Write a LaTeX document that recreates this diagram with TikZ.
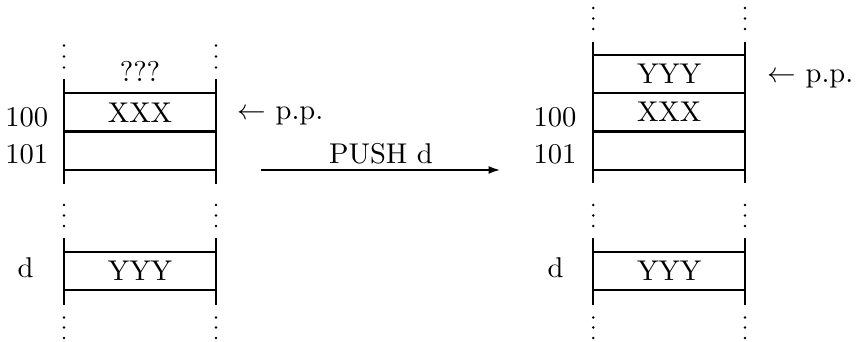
\documentclass[tikz,border=0pt]{standalone}
\usetikzlibrary{arrows.meta}
\begin{document}
\begin{tikzpicture}[x=0.35pt,y=-0.35pt,
  cell/.style={draw,line width=0.8pt,minimum width=53.1pt,minimum height=13.5pt,inner sep=0pt},
  lbl/.style={anchor=base,inner sep=0pt},
  ptr/.style={anchor=base west,inner sep=0pt},
  rail/.style={line width=0.8pt},
  vdot/.style={fill=black}]
\useasboundingbox (0,0) rectangle (861,342);
% ---------- left stack ----------
\draw[rail] (64,79.3) -- (64,184);
\draw[rail] (216,79.3) -- (216,184);
\node[cell] (LX) at (140,112.3) {XXX};
\node[cell] (LE) at (140,150.9) {};
\node[lbl] (Lq) at (140,81.5) {???};
\node[lbl] (L100) at (26.7,126.7) {100};
\node[lbl] (L101) at (26.7,163.4) {101};
\node[ptr] (Lpp) at (237,120) {$\leftarrow$ p.p.};
\foreach \xx in {64,216}{
  \foreach \yy in {45.5,56.5,67.5}{\fill[vdot] (\xx,\yy) circle[radius=0.5pt];}
  \foreach \yy in {205,215.5,226}{\fill[vdot] (\xx,\yy) circle[radius=0.5pt];}
  \foreach \yy in {317.5,327.5,338}{\fill[vdot] (\xx,\yy) circle[radius=0.5pt];}
}
\draw[rail] (64,238) -- (64,305);
\draw[rail] (216,238) -- (216,305);
\node[cell] (LY) at (140,271) {YYY};
\node[lbl] (Ld) at (25.5,278) {d};
% ---------- arrow ----------
\coordinate (A1) at (261,170);
\coordinate (A2) at (500,170);
\draw[line width=0.6pt,-{Latex[length=4pt,width=2.8pt]}] (A1) -- (A2);
\node[lbl] (push) at (381,164) {PUSH d};
% ---------- right stack ----------
\draw[rail] (593.3,41.7) -- (593.3,183);
\draw[rail] (745,41.7) -- (745,183);
\node[cell] (RY) at (669.2,74) {YYY};
\node[cell] (RX) at (669.2,112.2) {XXX};
\node[cell] (RE) at (669.2,150.4) {};
\node[lbl] (R100) at (555,126.7) {100};
\node[lbl] (R101) at (555,163.4) {101};
\node[ptr] (Rpp) at (767,83) {$\leftarrow$ p.p.};
\foreach \xx in {593.3,745}{
  \foreach \yy in {8,18.5,29}{\fill[vdot] (\xx,\yy) circle[radius=0.5pt];}
  \foreach \yy in {205,215.5,226}{\fill[vdot] (\xx,\yy) circle[radius=0.5pt];}
  \foreach \yy in {317.5,327.5,338}{\fill[vdot] (\xx,\yy) circle[radius=0.5pt];}
}
\draw[rail] (593.3,238) -- (593.3,305);
\draw[rail] (745,238) -- (745,305);
\node[cell] (RYd) at (669.2,271) {YYY};
\node[lbl] (Rd) at (555.5,278) {d};
\end{tikzpicture}
\end{document}
